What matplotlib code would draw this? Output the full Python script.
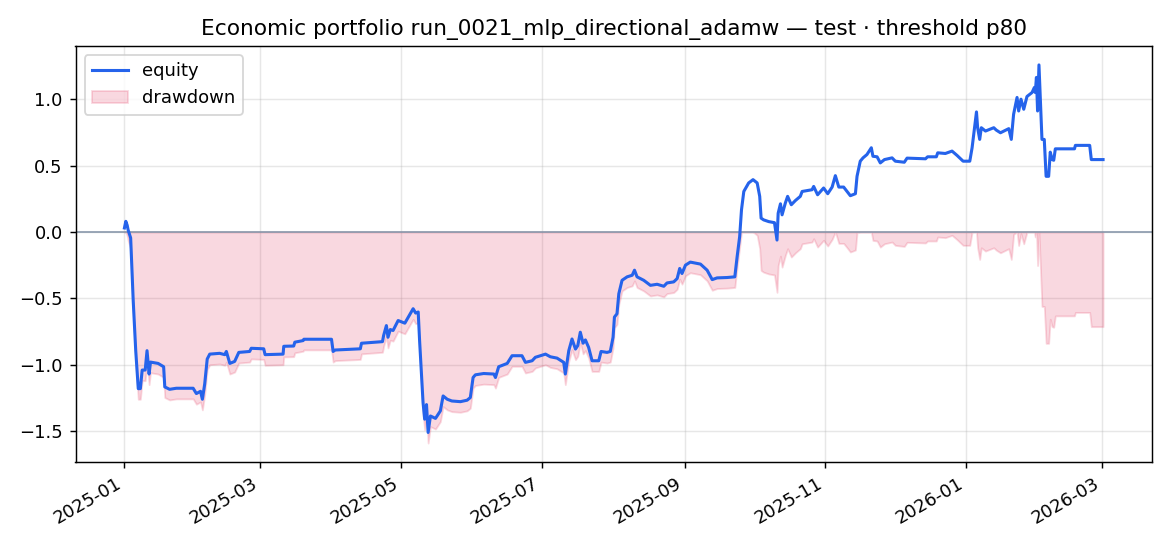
import matplotlib
matplotlib.use("Agg")
import matplotlib.pyplot as plt
import matplotlib.dates as mdates
import numpy as np
import pandas as pd

start_date = "2025-01-01"
day_offsets = [
    0, 0.6, 1.2, 1.6, 2.7, 3.8, 4.9, 6.0, 6.9, 7.7, 9.0, 9.8, 10.7, 11.3, 14.6, 17.0, 17.5, 19.6, 22.5,
    29.8, 31.2, 33.0, 33.8, 34.8, 35.9, 37.0, 41.3, 43.5, 44.2, 45.7, 47.8, 49.6, 54.3, 55.0, 60.4,
    61.0, 68.8, 69.1, 73.4, 73.9, 77.5, 77.8, 89.8, 90.5, 91.4, 102.3, 102.8, 111.9, 112.4, 113.6,
    114.3, 115.3, 116.5, 118.7, 121.6, 123.5, 125.2, 126.3, 127.4, 128.0, 128.8, 129.5, 130.2, 131.0,
    131.7, 132.7, 134.9, 137.0, 138.2, 140.0, 142.0, 145.7, 148.6, 150.0, 151.2, 152.2, 155.8, 160.2,
    160.9, 162.3, 166.0, 168.1, 172.4, 173.9, 176.8, 178.2, 182.6, 184.7, 187.6, 190.5, 191.2, 192.7,
    194.1, 195.6, 196.6, 197.7, 198.9, 199.9, 201.3, 202.8, 205.7, 206.7, 209.3, 210.7, 211.9, 212.5,
    213.6, 214.4, 215.8, 218.0, 220.2, 221.2, 222.3, 225.2, 228.1, 231.0, 233.9, 235.3, 238.2, 239.7,
    240.8, 241.8, 243.3, 245.4, 249.8, 252.7, 254.9, 257.0, 261.4, 264.7, 265.7, 266.8, 267.6, 268.6,
    270.7, 272.6, 274.4, 275.5, 276.1, 277.2, 279.4, 281.9, 283.0, 283.5, 284.5, 285.2, 286.6, 287.6,
    289.2, 291.0, 293.1, 293.9, 298.2, 298.9, 300.6, 303.2, 305.0, 306.9, 308.3, 309.8, 311.9, 313.4,
    314.8, 317.0, 317.7, 319.1, 320.3, 322.0, 323.9, 324.6, 326.4, 327.8, 329.6, 332.9, 334.3, 338.2,
    339.4, 347.4, 348.3, 352.1, 352.7, 356.0, 358.9, 361.1, 363.7, 366.6, 367.6, 368.6, 369.5, 370.0,
    370.9, 371.6, 373.4, 377.0, 378.1, 379.9, 383.5, 384.6, 385.6, 387.1, 387.8, 388.8, 390.0, 391.4,
    393.6, 394.6, 395.0, 395.5, 396.0, 396.6, 397.2, 397.9, 398.9, 399.7, 400.8, 401.5, 402.3, 403.0,
    403.7, 412.0, 412.4, 418.6, 419.3, 424.4,
]
equity = [
    0.03, 0.08, 0.05, 0.015, -0.045, -0.515, -0.894, -1.18, -1.18, -1.04, -1.04, -0.894, -1.07, -0.98,
    -0.99, -1.015, -1.167, -1.185, -1.177, -1.177, -1.217, -1.2, -1.26, -1.146, -0.957, -0.92, -0.914,
    -0.924, -0.9, -0.99, -0.975, -0.907, -0.9, -0.876, -0.88, -0.924, -0.92, -0.861, -0.859, -0.83,
    -0.818, -0.808, -0.808, -0.9, -0.889, -0.88, -0.838, -0.826, -0.78, -0.705, -0.793, -0.735, -0.742,
    -0.667, -0.687, -0.629, -0.578, -0.611, -0.603, -0.818, -1.07, -1.285, -1.41, -1.3, -1.51, -1.386,
    -1.404, -1.348, -1.235, -1.26, -1.273, -1.278, -1.267, -1.247, -1.096, -1.076, -1.066, -1.07,
    -1.096, -1.015, -0.99, -0.932, -0.932, -0.982, -0.97, -0.944, -0.92, -0.94, -0.95, -0.982, -1.07,
    -0.894, -0.806, -0.882, -0.856, -0.755, -0.838, -0.813, -0.869, -0.97, -0.97, -0.9, -0.907, -0.9,
    -0.793, -0.641, -0.616, -0.465, -0.364, -0.338, -0.326, -0.288, -0.338, -0.364, -0.402, -0.394,
    -0.409, -0.384, -0.376, -0.351, -0.275, -0.313, -0.25, -0.227, -0.242, -0.288, -0.359, -0.346,
    -0.343, -0.338, -0.187, -0.035, 0.167, 0.305, 0.369, 0.394, 0.369, 0.268, 0.104, 0.091, 0.078,
    0.07, -0.061, 0.141, 0.212, 0.129, 0.217, 0.268, 0.205, 0.237, 0.268, 0.305, 0.318, 0.343, 0.28,
    0.331, 0.288, 0.338, 0.424, 0.338, 0.338, 0.305, 0.273, 0.288, 0.419, 0.533, 0.558, 0.583, 0.634,
    0.57, 0.566, 0.52, 0.545, 0.558, 0.533, 0.525, 0.556, 0.551, 0.566, 0.566, 0.596, 0.591, 0.609,
    0.576, 0.533, 0.533, 0.634, 0.773, 0.904, 0.785, 0.697, 0.785, 0.76, 0.785, 0.767, 0.747, 0.778,
    0.697, 0.886, 1.013, 0.911, 1.0, 0.924, 1.02, 1.05, 1.088, 1.05, 1.164, 0.911, 1.258, 1.0, 0.697,
    0.697, 0.419, 0.419, 0.601, 0.545, 0.54, 0.626, 0.626, 0.652, 0.652, 0.545, 0.545,
]

title = "Economic portfolio run_0021_mlp_directional_adamw — test · threshold p80"

dates = pd.Timestamp(start_date) + pd.to_timedelta(np.array(day_offsets), unit="D")
eq = np.array(equity)
drawdown = eq - np.maximum.accumulate(eq)

fig, ax = plt.subplots(figsize=(9, 4.2), dpi=130)

ax.plot(dates, eq, color="#2563eb", lw=1.7, label="equity", zorder=3)
ax.fill_between(dates, drawdown, 0, color="#e11d48", alpha=0.17, label="drawdown", zorder=2)
ax.axhline(0, color="#8796aa", lw=0.9, zorder=2.5)

ax.grid(True, alpha=0.3)
ax.set_title(title, fontsize=12)
ax.legend(loc="upper left")
ax.xaxis.set_major_locator(mdates.MonthLocator(bymonth=[1, 3, 5, 7, 9, 11]))
ax.xaxis.set_major_formatter(mdates.DateFormatter("%Y-%m"))
fig.autofmt_xdate()
fig.subplots_adjust(left=75.5 / 1170, right=1152 / 1170, top=1 - 46 / 546, bottom=1 - 462 / 546)

fig.savefig("out.png", dpi=130)
